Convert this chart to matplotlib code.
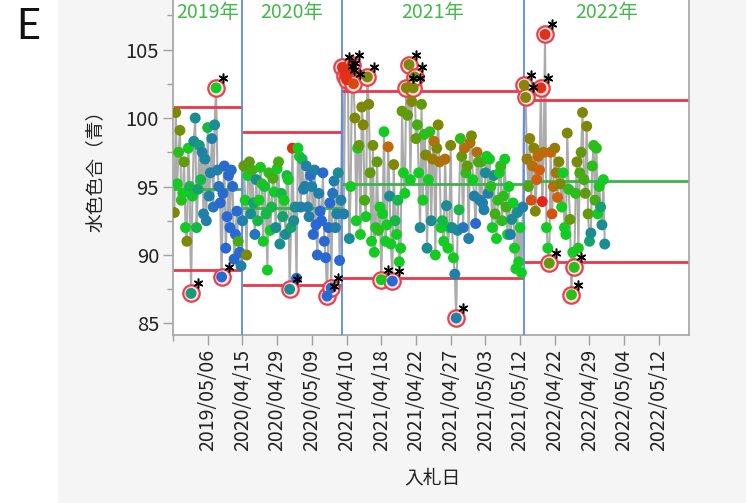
import numpy as np
import matplotlib
matplotlib.use("Agg")
import matplotlib.pyplot as plt
from matplotlib.colors import LinearSegmentedColormap
from matplotlib.patches import Rectangle
from matplotlib.transforms import offset_copy

plt.rcParams['font.family'] = ['Noto Sans CJK JP', 'DejaVu Sans']

# phases (one per year) and their control limits
years = ['2019年', '2020年', '2021年', '2022年']
ucl = [100.8, 99.0, 102.0, 101.3]
lcl = [88.9, 87.8, 88.3, 89.5]
center = [94.85, 93.4, 95.15, 95.4]

# 水色色合（青） per bid, in row order, with a colour value 0 (blue) .. 1 (red)
y2019 = [93.1, 100.4, 95.2, 97.5, 99.1, 94.0, 94.5, 96.8, 92.0, 91.0,
         97.8, 95.0, 87.2, 94.3, 98.3, 100.0, 92.0, 94.8, 98.0, 95.5,
         97.5, 93.0, 97.0, 92.5, 99.3, 94.3, 96.0, 98.5, 93.5, 99.5,
         102.2, 96.2, 95.0, 93.8, 88.4, 94.5, 96.5, 90.5, 92.8, 95.8,
         92.0, 96.2, 95.0, 89.7, 91.5, 93.2, 91.0, 90.2, 89.2]
c2019 = [0.7, 0.7, 0.5, 0.55, 0.68, 0.55, 0.5, 0.65, 0.5, 0.7,
         0.5, 0.45, 0.38, 0.48, 0.35, 0.35, 0.45, 0.4, 0.38, 0.45,
         0.3, 0.3, 0.32, 0.3, 0.45, 0.3, 0.3, 0.3, 0.25, 0.35,
         0.5, 0.3, 0.25, 0.2, 0.18, 0.2, 0.2, 0.15, 0.2, 0.2,
         0.15, 0.22, 0.2, 0.15, 0.18, 0.2, 0.6, 0.2, 0.3]

y2020 = [92.5, 96.5, 94.0, 90.0, 95.8, 96.8, 93.0, 96.2, 93.8, 91.5,
         95.5, 92.5, 94.0, 96.4, 95.2, 91.0, 95.0, 93.0, 88.9, 96.0,
         91.8, 93.5, 95.6, 94.6, 92.0, 96.3, 96.8, 90.8, 94.5, 92.8,
         94.0, 91.5, 95.8, 95.5, 87.5, 92.0, 97.8, 92.5, 93.5, 88.3,
         97.8, 97.2, 93.5, 97.0, 94.8, 95.0, 96.5, 93.5, 92.8, 95.8,
         95.0, 91.5, 96.2, 92.2, 90.0, 94.5, 93.2, 92.5, 96.0, 91.0,
         89.8, 87.0, 92.0, 93.8, 87.6, 94.5, 95.4, 92.0, 93.0, 96.0,
         89.6, 94.0]
c2020 = [0.3, 0.65, 0.5, 0.7, 0.5, 0.65, 0.35, 0.6, 0.4, 0.25,
         0.35, 0.45, 0.5, 0.52, 0.55, 0.5, 0.48, 0.45, 0.5, 0.55,
         0.5, 0.45, 0.6, 0.5, 0.35, 0.5, 0.6, 0.35, 0.45, 0.4,
         0.5, 0.35, 0.45, 0.5, 0.35, 0.4, 0.95, 0.35, 0.35, 0.2,
         0.5, 0.5, 0.3, 0.45, 0.3, 0.3, 0.3, 0.3, 0.3, 0.22,
         0.3, 0.2, 0.3, 0.2, 0.18, 0.3, 0.2, 0.15, 0.2, 0.18,
         0.15, 0.2, 0.2, 0.2, 0.2, 0.25, 0.3, 0.3, 0.3, 0.35,
         0.18, 0.3]

y2021 = [103.7, 93.0, 103.1, 102.8, 103.3, 91.2, 95.0, 103.9, 102.5, 100.0,
         92.5, 97.8, 98.0, 91.5, 100.8, 99.5, 94.0, 92.8, 103.0, 101.0,
         96.0, 91.0, 98.0, 90.2, 92.0, 96.8, 91.8, 93.5, 88.2, 93.0,
         99.0, 91.0, 92.2, 97.9, 94.3, 90.8, 88.1, 96.6, 92.5, 91.5,
         94.0, 89.5, 90.5, 100.5, 96.0, 94.5, 102.2, 100.2, 103.9, 95.5,
         101.2, 102.2, 103.0, 98.5, 99.5, 96.0, 92.0, 101.0, 94.0, 98.8,
         97.3, 90.5, 95.5, 99.0, 92.5, 97.0, 98.3, 90.0, 97.8, 99.5,
         96.8, 92.0, 92.5, 91.0, 97.0, 93.6, 90.5, 92.0, 98.0, 92.0,
         89.8, 88.6, 85.4, 91.8, 93.3, 98.5, 97.2, 92.0, 97.8, 96.0,
         96.5, 91.2, 98.2, 98.7, 95.5, 94.3, 92.3, 97.5, 96.8, 94.0,
         96.8, 93.8, 93.3, 96.0, 97.2, 94.5, 97.0, 95.0, 92.0, 95.8,
         93.0, 91.2, 94.0, 96.0, 96.5, 92.5, 94.3, 97.0, 93.5, 91.5,
         95.0, 91.5, 92.6, 93.8, 90.5, 89.0, 93.1, 89.5, 92.0, 88.7,
         93.5]
c2021 = [0.95, 0.3, 0.95, 0.95, 0.95, 0.35, 0.5, 0.95, 0.9, 0.7,
         0.5, 0.5, 0.65, 0.5, 0.7, 0.7, 0.6, 0.5, 0.7, 0.7,
         0.65, 0.5, 0.68, 0.5, 0.5, 0.65, 0.55, 0.5, 0.52, 0.5,
         0.5, 0.5, 0.5, 0.82, 0.35, 0.5, 0.18, 0.7, 0.45, 0.5,
         0.45, 0.5, 0.5, 0.65, 0.5, 0.5, 0.72, 0.65, 0.7, 0.5,
         0.7, 0.7, 0.7, 0.65, 0.6, 0.5, 0.35, 0.65, 0.5, 0.55,
         0.7, 0.35, 0.5, 0.55, 0.35, 0.75, 0.8, 0.5, 0.7, 0.7,
         0.78, 0.5, 0.45, 0.5, 0.8, 0.35, 0.5, 0.5, 0.7, 0.35,
         0.5, 0.3, 0.3, 0.35, 0.45, 0.55, 0.65, 0.25, 0.8, 0.55,
         0.65, 0.3, 0.8, 0.7, 0.5, 0.3, 0.2, 0.8, 0.6, 0.3,
         0.6, 0.3, 0.3, 0.35, 0.5, 0.3, 0.5, 0.55, 0.5, 0.35,
         0.6, 0.5, 0.55, 0.5, 0.55, 0.55, 0.55, 0.5, 0.6, 0.5,
         0.5, 0.3, 0.35, 0.5, 0.5, 0.5, 0.35, 0.5, 0.5, 0.5,
         0.3]

y2022 = [102.4, 101.5, 97.0, 95.0, 98.5, 94.0, 96.5, 97.8, 93.2, 95.5,
         97.2, 96.2, 102.2, 93.9, 97.5, 106.1, 92.0, 90.5, 89.4, 97.5,
         93.0, 95.0, 97.8, 96.0, 94.2, 96.8, 95.2, 93.5, 96.0, 92.0,
         91.5, 98.9, 94.8, 92.6, 87.1, 90.2, 89.1, 94.5, 96.8, 90.5,
         96.0, 97.5, 100.4, 95.5, 94.5, 99.4, 93.0, 91.0, 91.6, 96.5,
         98.0, 94.0, 97.8, 93.0, 95.0, 93.5, 92.2, 95.5, 90.8]
c2022 = [0.72, 0.72, 0.75, 0.62, 0.72, 0.88, 0.8, 0.72, 0.7, 0.85,
         0.82, 0.85, 0.95, 0.98, 0.8, 0.95, 0.5, 0.5, 0.65, 0.85,
         0.88, 0.8, 0.75, 0.75, 0.85, 0.7, 0.7, 0.5, 0.5, 0.5,
         0.5, 0.7, 0.55, 0.65, 0.55, 0.5, 0.55, 0.55, 0.7, 0.52,
         0.6, 0.65, 0.7, 0.6, 0.65, 0.7, 0.65, 0.4, 0.35, 0.55,
         0.55, 0.6, 0.55, 0.5, 0.52, 0.4, 0.35, 0.5, 0.35]

tick_labels = ['2019/05/06', '2020/04/15', '2020/04/29', '2020/05/09',
               '2021/04/10', '2021/04/18', '2021/04/22', '2021/04/27',
               '2021/05/03', '2021/05/12', '2022/04/22', '2022/04/29',
               '2022/05/04', '2022/05/12']

phases = [y2019, y2020, y2021, y2022]
colours = [c2019, c2020, c2021, c2022]

y = np.concatenate(phases)
c = np.concatenate(colours)
x = np.arange(len(y))
phase = np.concatenate([np.full(len(p), k) for k, p in enumerate(phases)])

# row range shown on the axis (empty rows after the last bid)
xmin, xmax = -1, 370.7
starts = np.cumsum([0] + [len(p) for p in phases])
edges = [xmin] + [s - 0.5 for s in starts[1:-1]] + [xmax]

cmap = LinearSegmentedColormap.from_list('bgr', [
    (0.0, '#2462dc'), (0.2, '#2a6ad0'), (0.35, '#1a8c92'), (0.5, '#12cc22'),
    (0.7, '#7c8a06'), (0.85, '#d0600e'), (1.0, '#e81c1c')])

fig = plt.figure(figsize=(7.46, 5.03), dpi=100)
fig.patches.append(Rectangle((58 / 746, 0), 1, 1, transform=fig.transFigure,
                             facecolor='#f5f5f5', edgecolor='none', zorder=-10))
ax = fig.add_axes([173 / 746, 1 - 335 / 503, 516 / 746, 340 / 503])
ax.set_facecolor('white')

ax.plot(x, y, color='#ababab', lw=1.5, zorder=2)

for k in range(len(phases)):
    x0, x1 = edges[k], edges[k + 1]
    ax.hlines([ucl[k], lcl[k]], x0, x1, color='#e8394a', lw=2.0, zorder=2.5)
    ax.hlines(center[k], x0, x1, color='#3cb44b', lw=2.0, zorder=2.5)
    ax.text((x0 + x1) / 2, 107.7, years[k], color='#44b84a', fontsize=14,
            ha='center', va='center')
for e in edges[1:-1]:
    ax.axvline(e, color='#5b8bec', lw=1.3, zorder=2.6)

# points beyond the limits of their phase
out = (y > np.array(ucl)[phase]) | (y < np.array(lcl)[phase])
ax.scatter(x[out], y[out], s=140, facecolor='#fbe4e4', edgecolor='#e8404f',
           lw=1.6, zorder=3)
ax.scatter(x, y, c=c, cmap=cmap, vmin=0, vmax=1, s=62, lw=0, zorder=4)
star_tr = offset_copy(ax.transData, fig=fig, x=7, y=10, units='dots')
ax.plot(x[out], y[out], ls='none', marker=(6, 2, 0), ms=7, mew=1.1,
        color='black', transform=star_tr, zorder=5)

ax.set_xlim(xmin, xmax)
ax.set_ylim(84.16, 108.98)
ax.set_yticks([85, 90, 95, 100, 105])
ax.set_yticks([87.5, 92.5, 97.5, 102.5, 107.5], minor=True)
ax.set_xticks(np.arange(24, 350, 25))
ax.set_xticklabels(tick_labels, rotation=90)
ax.set_xticks([xmin], minor=True)

for s in ax.spines.values():
    s.set_color('#a9a9a9')
    s.set_linewidth(1.3)
ax.tick_params(axis='both', which='major', length=7, width=1, color='#a0a0a0',
               labelcolor='#222222', pad=3)
ax.tick_params(axis='y', which='major', labelsize=14.5)
ax.tick_params(axis='x', which='major', labelsize=14)
ax.tick_params(axis='both', which='minor', length=4, width=1, color='#a0a0a0')

fig.text(95 / 746, 1 - 166 / 503, '水色色合（青）', rotation=90, fontsize=13.5,
         ha='center', va='center', color='#222222')
fig.text(432 / 746, 1 - 478 / 503, '入札日', fontsize=13.5,
         ha='center', va='center', color='#222222')
fig.text(16 / 746, 1 - 27 / 503, 'E', fontsize=30, family='Lato',
         ha='left', va='center', color='#111111')

fig.savefig('out.png', dpi=100)
